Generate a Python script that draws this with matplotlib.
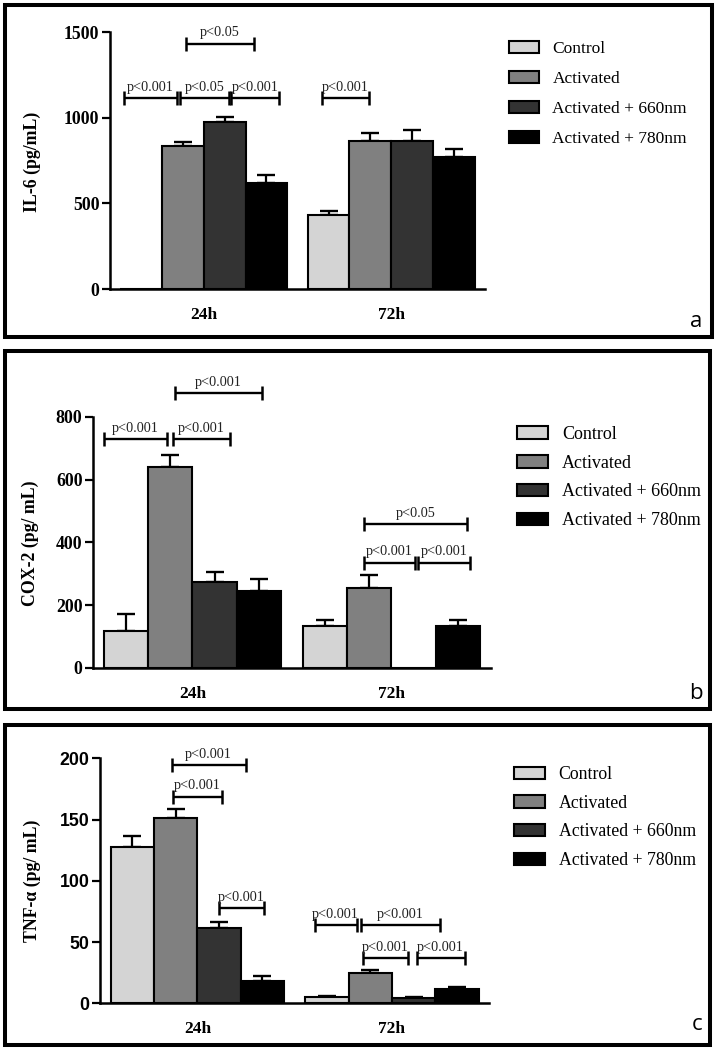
import matplotlib
matplotlib.use("Agg")
import matplotlib.pyplot as plt
from matplotlib.patches import Patch, Rectangle
import numpy as np

# ---------------- data ----------------
groups = ["24h", "72h"]
series = ["Control", "Activated", "Activated + 660nm", "Activated + 780nm"]
colors = ["#d4d4d4", "#808080", "#333333", "#000000"]

# Panel a: IL-6 (pg/mL)  -- rows: series, cols: groups
il6_mean = [[0, 430], [837, 866], [977, 866], [616, 773]]
il6_top = [[0, 455], [856, 911], [1006, 928], [667, 818]]

# Panel b: COX-2 (pg/ mL)
cox2_mean = [[118, 135], [641, 255], [273, 0], [246, 135]]
cox2_top = [[171, 153], [679, 295], [305, 0], [282, 153]]

# Panel c: TNF-alpha (pg/ mL)
tnf_mean = [[127.3, 5.2], [151.3, 25.0], [61.5, 4.4], [18.5, 11.7]]
tnf_top = [[136.8, 6.0], [158.4, 27.2], [66.4, 5.0], [22.6, 13.0]]

# significance brackets: (x_start, x_end, y, label) in data units
il6_sig = [(-0.095, 0.268, 1432, "p<0.05"),
           (-0.425, -0.143, 1114, "p<0.001"),
           (-0.127, 0.135, 1114, "p<0.05"),
           (0.145, 0.401, 1114, "p<0.001"),
           (0.631, 0.881, 1114, "p<0.001")]
cox2_sig = [(-0.087, 0.349, 874, "p<0.001"),
            (-0.445, -0.128, 729, "p<0.001"),
            (-0.099, 0.190, 729, "p<0.001"),
            (0.861, 1.381, 457, "p<0.05"),
            (0.861, 1.121, 335, "p<0.001"),
            (1.134, 1.394, 335, "p<0.001")]
tnf_sig = [(-0.132, 0.248, 194.5, "p<0.001"),
           (-0.125, 0.129, 168.6, "p<0.001"),
           (0.113, 0.340, 77.5, "p<0.001"),
           (0.604, 0.818, 63.9, "p<0.001"),
           (0.839, 1.247, 63.9, "p<0.001"),
           (0.849, 1.083, 36.7, "p<0.001"),
           (1.126, 1.374, 36.7, "p<0.001")]

# ---------------- layout ----------------
W, H = 717, 1050
fig = plt.figure(figsize=(W / 100, H / 100), dpi=100)

SERIF = ["Liberation Serif", "DejaVu Serif"]
SANS = ["Liberation Sans", "DejaVu Sans"]
BAR_W = 0.223
x_groups = np.arange(len(groups))


def add_ax(l, t, r, b):
    return fig.add_axes([l / W, 1 - b / H, (r - l) / W, (b - t) / H])


def frame(l, t, r, b):
    fig.patches.append(Rectangle((l / W, 1 - b / H), (r - l) / W, (b - t) / H,
                                 transform=fig.transFigure, fill=False,
                                 edgecolor="black", linewidth=2.9))


def panel(box, means, tops, ylim, yticks, sig, ylabel, ylabel_xy, tick_family,
          leg_xy, leg_size, leg_space, letter, letter_xy):
    ax = add_ax(*box)
    for i in range(len(series)):
        xs = x_groups + (i - 1.5) * BAR_W
        vals = np.array(means[i], dtype=float)
        tp = np.array(tops[i], dtype=float)
        ax.bar(xs, vals, width=BAR_W, color=colors[i], edgecolor="black",
               linewidth=1.5, zorder=2)
        mask = vals > 0
        ax.errorbar(xs[mask], vals[mask],
                    yerr=[np.zeros(mask.sum()), (tp - vals)[mask]],
                    fmt="none", ecolor="black", elinewidth=1.6, capsize=6.5,
                    capthick=1.7, zorder=1)
    ax.set_xlim(-0.5, 1.5)
    ax.set_ylim(*ylim)
    ax.set_yticks(yticks)
    ax.set_xticks(x_groups)
    ax.set_xticklabels(groups, family=SERIF, fontweight="bold", fontsize=12.5)
    ax.set_yticklabels([str(v) for v in yticks], family=tick_family,
                       fontweight="bold", fontsize=12.8)
    ax.tick_params(axis="x", length=0, pad=13)
    ax.tick_params(axis="y", length=6, width=1.6, pad=1.5)
    for s in ["top", "right"]:
        ax.spines[s].set_visible(False)
    for s in ["left", "bottom"]:
        ax.spines[s].set_linewidth(1.8)
    ax.set_facecolor("none")
    for x0, x1, y, lab in sig:
        ax.plot([x0, x1], [y, y], color="black", lw=1.7, clip_on=False,
                solid_capstyle="butt")
        ax.plot([x0, x1], [y, y], linestyle="none", marker="|",
                markersize=9.5, markeredgewidth=1.8, color="black",
                clip_on=False)
        ax.annotate(lab, xy=((x0 + x1) / 2, y), xytext=(0, 3.2),
                    textcoords="offset points", ha="center", va="bottom",
                    family=SERIF, fontsize=10.3, color="#222222",
                    annotation_clip=False)
    fig.text(ylabel_xy[0] / W, 1 - ylabel_xy[1] / H, ylabel, rotation=90,
             ha="center", va="center", family=SERIF, fontweight="bold",
             fontsize=12.8)
    handles = [Patch(facecolor=c, edgecolor="black", linewidth=1.5)
               for c in colors]
    fig.legend(handles, series, loc="upper left",
               bbox_to_anchor=(leg_xy[0] / W, 1 - leg_xy[1] / H),
               frameon=False, borderpad=0, borderaxespad=0,
               handlelength=1.72, handleheight=0.7, handletextpad=0.78,
               labelspacing=leg_space, prop={"family": SERIF, "size": leg_size})
    fig.text(letter_xy[0] / W, 1 - letter_xy[1] / H, letter, ha="center",
             va="baseline", family=["Open Sans", "DejaVu Sans"], fontsize=16)
    return ax


frame(5, 5, 712, 337)
frame(5, 351, 710, 709)
frame(5, 725, 710, 1045)

panel((110, 32, 485, 289), il6_mean, il6_top, (0, 1500), [0, 500, 1000, 1500],
      il6_sig, "IL-6 (pg/mL)", (32, 162), SERIF, (509, 41), 12.5, 0.80, "a",
      (696, 327))
panel((93, 416.7, 490.7, 668), cox2_mean, cox2_top, (0, 800),
      [0, 200, 400, 600, 800], cox2_sig, "COX-2 (pg/ mL)", (30, 543), SERIF,
      (516.7, 426), 13.0, 0.65, "b", (696, 699))
panel((100, 758.3, 489.3, 1003.3), tnf_mean, tnf_top, (0, 200),
      [0, 50, 100, 150, 200], tnf_sig, "TNF-α (pg/ mL)", (32.5, 881), SANS,
      (514.3, 766), 12.8, 0.66, "c", (697, 1030))

fig.savefig("out.png", dpi=100)
